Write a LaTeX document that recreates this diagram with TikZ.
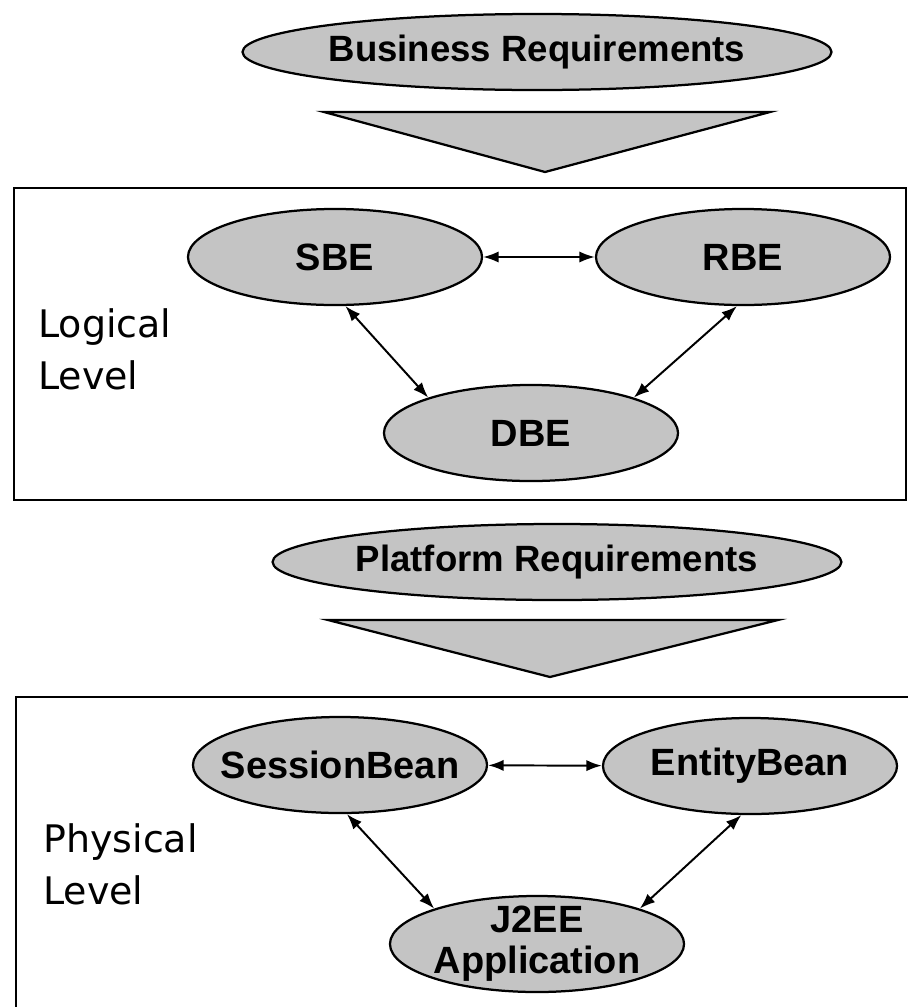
\documentclass[tikz,border=0pt]{standalone}
\usepackage{fontspec}
\setmainfont{DejaVu Sans}
\newfontfamily\beanfont{Liberation Sans}
\usetikzlibrary{shapes,arrows,arrows.meta,positioning}
\definecolor{shadegray}{RGB}{196,196,196}

\begin{document}
\begin{tikzpicture}[x=0.025cm, y=-0.025cm,
  req/.style={draw, ellipse, line width=1.6pt, fill=shadegray, minimum width=12.5cm, minimum height=1.9cm, inner sep=0pt, font=\beanfont\bfseries\fontsize{26}{29}\selectfont},
  bean/.style={draw, ellipse, line width=1.6pt, fill=shadegray, minimum width=7.35cm, minimum height=2.4cm, inner xsep=-14pt, inner ysep=-6pt, align=center, font=\beanfont\bfseries\fontsize{27}{29}\selectfont},
  lvl/.style={anchor=north west, inner sep=0pt, align=left, font=\fontsize{27}{37}\selectfont},
  link/.style={{Latex[length=11pt,width=8pt]}-{Latex[length=11pt,width=8pt]}, line width=1.4pt},
  frame/.style={draw, line width=1.6pt},
  funnel/.style={draw, line width=1.6pt, fill=shadegray}]
\useasboundingbox (0,0) rectangle (908,1007);

% business requirements
\node[req] (bizreq) at (537,52) {Business Requirements};
\draw[funnel] (324,112) -- (770,112) -- (545,172) -- cycle;

% logical level
\draw[frame] (14,188) rectangle (906,500);
\node[bean] (sbe) at (335,257) {SBE};
\node[bean] (rbe) at (743,257) {RBE};
\node[bean] (dbe) at (531,433) {DBE};
\node[lvl] (logical) at (38,308) {Logical\\Level};
\draw[link] (sbe) -- (rbe);
\draw[link] (sbe.-78) -- (dbe.161);
\draw[link] (rbe.-97) -- (dbe.19);

% platform requirements
\node[req] (platreq) at (557,562) {Platform Requirements};
\draw[funnel] (328,620) -- (778,620) -- (550,677) -- cycle;

% physical level
\draw[frame] (16,697) rectangle (920,1030);
\node[bean] (session) at (340,765) {SessionBean};
\node[bean] (entity) at (750,766) {EntityBean};
\node[bean] (j2ee) at (537,944) {J2EE\\Application};
\node[lvl] (physical) at (43,823) {Physical\\Level};
\draw[link] (session) -- (entity);
\draw[link] (session.-82) -- (j2ee.161);
\draw[link] (entity.-100) -- (j2ee.19);
\end{tikzpicture}
\end{document}
